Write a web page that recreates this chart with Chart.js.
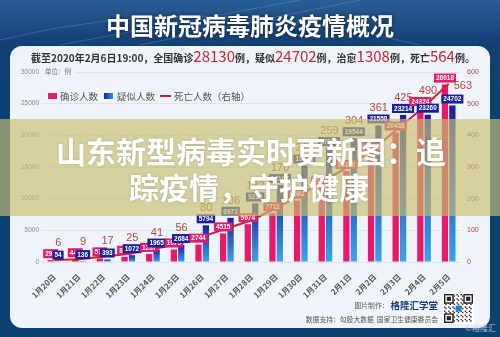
<!DOCTYPE html>
<html>
<head>
<meta charset="utf-8">
<script src="https://cdn.jsdelivr.net/npm/chart.js@4.4.1/dist/chart.umd.min.js"></script>
<style>
  html, body { margin: 0; padding: 0; background: #0c4174; }
  #wrap { width: 500px; height: 337px; }
</style>
</head>
<body>
<div id="wrap"><canvas id="epiChart" width="500" height="337"></canvas></div>
<script>
// data
const dates = ["1月20日", "1月21日", "1月22日", "1月23日", "1月24日", "1月25日", "1月26日", "1月27日", "1月28日",
  "1月29日", "1月30日", "1月31日", "2月1日", "2月2日", "2月3日", "2月4日", "2月5日"];
const confirmed = [291, 440, 571, 830, 1287, 1975, 2744, 4515, 5974, 7711, 9692, 11791, 14380, 17205, 20438, 24324, 28018];
const suspected = [54, 136, 393, 1072, 1965, 2684, 5794, 6973, 9239, 12167, 15238, 17988, 19544, 21558, 23214, 23260, 24702];
const deaths = [6, 9, 17, 25, 41, 56, 80, 106, 132, 170, 213, 259, 304, 361, 425, 490, 563];
const leftMax = 30000, leftStep = 5000;
const rightMax = 600, rightStep = 100;
const seriesNames = ["确诊人数", "疑似人数", "死亡人数（右轴）"];

const CJK = '"Noto Sans CJK SC", "Noto Sans", sans-serif';
const NUM = '"Liberation Sans", Arial, sans-serif';
const PINK = "#e8196a";
const NAVY = "#1b1f9e";
const RED = "#cc2229";

function blueFill(c) {
  const ch = c.chart;
  const ys = ch.scales.y;
  if (!ys || c.raw == null) return "#1e6fd0";
  const top = ys.getPixelForValue(c.raw);
  const bot = ys.getPixelForValue(0);
  if (!isFinite(top) || !isFinite(bot) || bot - top < 1) return "#1e6fd0";
  const g = ch.ctx.createLinearGradient(0, top, 0, bot);
  g.addColorStop(0, NAVY);
  g.addColorStop(1, "#36a6ea");
  return g;
}

function box(c, text, x, bottom, bg) {
  c.font = "bold 6.5px " + NUM;
  const w = c.measureText(text).width + 4;
  const h = 9;
  c.fillStyle = bg;
  c.fillRect(x - w / 2, bottom - h, w, h);
  c.fillStyle = "#fff";
  c.textAlign = "center";
  c.textBaseline = "middle";
  c.fillText(text, x, bottom - h / 2 + 0.5);
}

const pageDecor = {
  id: "pageDecor",
  beforeDraw(chart) {
    const c = chart.ctx;
    c.save();
    // dark background with lighter sky at the top
    let g = c.createLinearGradient(0, 0, 0, 90);
    g.addColorStop(0, "#2a5d96");
    g.addColorStop(0.5, "#123f74");
    g.addColorStop(1, "#0c4174");
    c.fillStyle = g;
    c.fillRect(0, 0, 500, 337);
    // faint bridge structure
    c.strokeStyle = "rgba(150,190,235,0.25)";
    c.lineWidth = 1;
    c.beginPath();
    c.moveTo(0, 40); c.quadraticCurveTo(200, -10, 420, 45);
    c.moveTo(60, 45); c.lineTo(300, 0);
    c.moveTo(140, 45); c.lineTo(360, 0);
    c.stroke();
    // card
    c.fillStyle = "#eff4fa";
    c.beginPath();
    c.roundRect(10, 46, 480, 282, 12);
    c.fill();
    // title
    c.shadowColor = "rgba(0,0,0,0.55)";
    c.shadowBlur = 4;
    c.fillStyle = "#fff";
    c.font = "bold 24px " + CJK;
    c.textAlign = "center";
    c.textBaseline = "middle";
    c.fillText("中国新冠病毒肺炎疫情概况", 250, 26);
    c.shadowColor = "transparent";
    c.shadowBlur = 0;
    // subtitle with red figures
    const parts = [
      ["截至2020年2月6日19:00，全国确诊", 0], ["28130", 1], ["例，疑似", 0], ["24702", 1],
      ["例，治愈", 0], ["1308", 1], ["例，死亡", 0], ["564", 1], ["例。", 0]
    ];
    const fontOf = p => p[1] ? "15px " + CJK : "bold 10px " + CJK;
    let total = 0;
    parts.forEach(p => { c.font = fontOf(p); total += c.measureText(p[0]).width; });
    let x = 253 - total / 2;
    c.textAlign = "left";
    c.textBaseline = "alphabetic";
    parts.forEach(p => {
      c.font = fontOf(p);
      c.fillStyle = p[1] ? "#c0283a" : "#333";
      c.fillText(p[0], x, 62);
      x += c.measureText(p[0]).width;
    });
    c.restore();
  },
  afterDatasetsDraw(chart) {
    const c = chart.ctx;
    const ys = chart.scales.y;
    const pinkMeta = chart.getDatasetMeta(0);
    const blueMeta = chart.getDatasetMeta(1);
    const lineMeta = chart.getDatasetMeta(2);
    c.save();
    dates.forEach((d, j) => {
      const pb = pinkMeta.data[j], bb = blueMeta.data[j];
      box(c, String(confirmed[j]), pb.x, ys.getPixelForValue(confirmed[j]) - 2, PINK);
      box(c, String(suspected[j]), bb.x, ys.getPixelForValue(suspected[j]) - 2, NAVY);
    });
    c.font = "11px " + NUM;
    c.fillStyle = "#b8453d";
    deaths.forEach((v, j) => {
      const pt = lineMeta.data[j];
      if (j === deaths.length - 1) {
        c.textAlign = "left";
        c.textBaseline = "middle";
        c.fillText(String(v), pt.x + 5, pt.y + 2);
        return;
      }
      const top = Math.min(ys.getPixelForValue(confirmed[j]), ys.getPixelForValue(suspected[j]));
      c.textAlign = "center";
      c.textBaseline = "alphabetic";
      c.fillText(String(v), pt.x + 4, top - 14);
    });
    c.restore();
  },
  afterDraw(chart) {
    const c = chart.ctx;
    const area = chart.chartArea;
    c.save();
    // unit label on the top grid line
    c.fillStyle = "#eff4fa";
    c.fillRect(area.left, area.top - 4, 34, 8);
    c.fillStyle = "#777";
    c.font = "6.5px " + CJK;
    c.textAlign = "left";
    c.textBaseline = "middle";
    c.fillText("单位：例", area.left + 3, area.top);
    // legend
    c.font = "9.5px " + CJK;
    c.fillStyle = PINK; c.fillRect(48, 93, 9, 6);
    c.fillStyle = "#555"; c.fillText(seriesNames[0], 60, 96.5);
    let lg = c.createLinearGradient(104, 0, 113, 0);
    lg.addColorStop(0, NAVY); lg.addColorStop(1, "#2f8ee0");
    c.fillStyle = lg; c.fillRect(104, 93, 9, 6);
    c.fillStyle = "#555"; c.fillText(seriesNames[1], 117, 96.5);
    c.strokeStyle = RED; c.lineWidth = 2;
    c.beginPath(); c.moveTo(160, 96); c.lineTo(171, 96); c.stroke();
    c.fillStyle = "#555"; c.fillText(seriesNames[2], 174, 96.5);
    // footer
    c.textAlign = "right";
    c.font = "bold 9.5px " + CJK;
    c.fillStyle = "#1c3f7a";
    c.fillText("格隆汇学堂", 438, 305);
    const bw = c.measureText("格隆汇学堂").width;
    c.font = "6.8px " + CJK;
    c.fillStyle = "#555";
    c.fillText("图片制作：", 436 - bw, 305.5);
    c.fillText("数据支持：勾股大数据  国家卫生健康委员会", 438, 319);
    // QR code block
    const qx = 444, qy = 294, n = 21, s = 29 / n;
    c.fillStyle = "#fff";
    c.fillRect(qx - 1, qy - 1, 31, 31);
    c.fillStyle = "#222";
    for (let i = 0; i < n; i++) {
      for (let k = 0; k < n; k++) {
        if ((i * 7 + k * 13 + i * k) % 3 === 0) c.fillRect(qx + k * s, qy + i * s, s, s);
      }
    }
    [[0, 0], [n - 7, 0], [0, n - 7]].forEach(([fx, fy]) => {
      c.fillStyle = "#222"; c.fillRect(qx + fx * s, qy + fy * s, 7 * s, 7 * s);
      c.fillStyle = "#fff"; c.fillRect(qx + (fx + 1) * s, qy + (fy + 1) * s, 5 * s, 5 * s);
      c.fillStyle = "#222"; c.fillRect(qx + (fx + 2) * s, qy + (fy + 2) * s, 3 * s, 3 * s);
    });
    c.fillStyle = "#2a7fd4";
    c.fillRect(qx + 11.5, qy + 11.5, 6, 6);
    // watermark
    c.font = "8px " + CJK;
    c.fillStyle = "rgba(210,215,225,0.85)";
    c.textAlign = "right";
    c.fillText("©格隆汇", 496, 328);
    // translucent banner with headline
    c.fillStyle = "rgba(200,192,112,0.66)";
    c.fillRect(0, 119, 500, 97);
    c.fillStyle = "#fff";
    c.shadowColor = "rgba(0,0,0,0.18)";
    c.shadowBlur = 3;
    c.font = "bold 30px " + CJK;
    c.textAlign = "center";
    c.textBaseline = "middle";
    c.fillText("山东新型病毒实时更新图：追", 251, 152);
    c.fillText("踪疫情，守护健康", 249, 188);
    c.restore();
  }
};

new Chart(document.getElementById("epiChart"), {
  data: {
    labels: dates,
    datasets: [
      { type: "bar", label: seriesNames[0], data: confirmed, backgroundColor: PINK, yAxisID: "y",
        categoryPercentage: 0.6, barPercentage: 0.85, order: 2 },
      { type: "bar", label: seriesNames[1], data: suspected, backgroundColor: blueFill, yAxisID: "y",
        categoryPercentage: 0.6, barPercentage: 0.85, order: 2 },
      { type: "line", label: seriesNames[2], data: deaths, borderColor: RED, borderWidth: 2,
        pointRadius: 0, tension: 0, yAxisID: "y1", order: 1 }
    ]
  },
  options: {
    responsive: false,
    devicePixelRatio: 1,
    animation: false,
    layout: { padding: { top: 72, left: 0, right: 0, bottom: 0 } },
    plugins: { legend: { display: false }, tooltip: { enabled: false } },
    scales: {
      x: {
        offset: true,
        grid: { display: false },
        border: { display: false },
        ticks: { autoSkip: false, maxRotation: 45, minRotation: 45, padding: 2,
          color: "#555", font: { size: 8, weight: "bold", family: CJK } },
        afterFit: s => { s.height = 75; }
      },
      y: {
        position: "left", min: 0, max: leftMax,
        grid: { color: "#dde4ec", drawTicks: false },
        border: { display: false },
        ticks: { stepSize: leftStep, padding: 3, color: "#888", font: { size: 6.5, family: NUM },
          callback: v => String(v) },
        afterFit: s => { s.width = 42; }
      },
      y1: {
        position: "right", min: 0, max: rightMax,
        grid: { display: false, drawTicks: false },
        border: { display: false },
        ticks: { stepSize: rightStep, padding: 6, color: "#b04848", font: { size: 7, family: NUM },
          callback: v => String(v) },
        afterFit: s => { s.width = 39; }
      }
    }
  },
  plugins: [pageDecor]
});
</script>
</body>
</html>
